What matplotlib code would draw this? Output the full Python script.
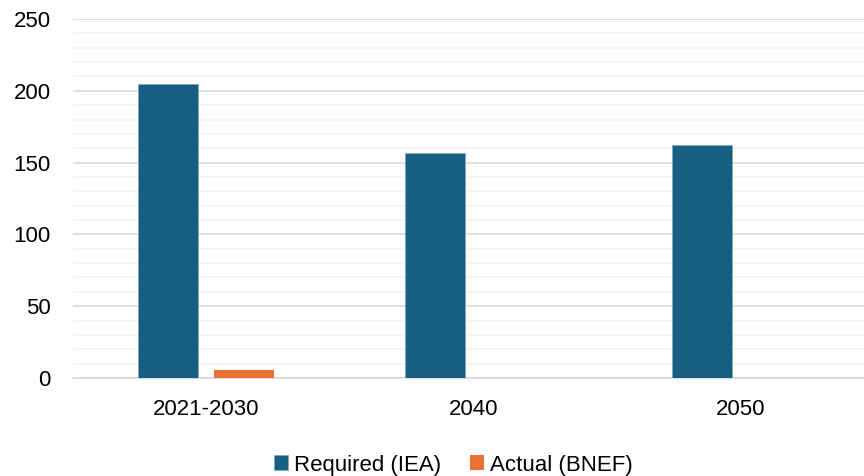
import numpy as np
import matplotlib
matplotlib.use("Agg")
import matplotlib.pyplot as plt
from matplotlib.ticker import MultipleLocator

# data
categories = ['2021-2030', '2040', '2050']
required_iea = [205, 157, 162.5]
actual_bnef = [5.8, 0, 0]

plt.rcParams['font.family'] = ['Liberation Sans', 'DejaVu Sans']

fig = plt.figure(figsize=(8.64, 4.76), dpi=100)
ax = fig.add_axes([73 / 864, 98 / 476, 801 / 864, 359 / 476])

x = np.arange(len(categories))
w = 0.225
ax.bar(x - 0.144, required_iea, w, color='#156082', label='Required (IEA)',
       edgecolor='#7fa6b8', linewidth=0.5, zorder=3)
ax.bar(x + 0.142, actual_bnef, w, color='#E97132', label='Actual (BNEF)', zorder=3)

ax.set_xlim(-0.5, 2.5)
ax.set_ylim(0, 250)
ax.yaxis.set_major_locator(MultipleLocator(50))
ax.yaxis.set_minor_locator(MultipleLocator(10))
ax.grid(axis='y', which='major', color='#d9d9d9', linewidth=1.2, zorder=0)
ax.grid(axis='y', which='minor', color='#f2f2f2', linewidth=1.2, zorder=0)
ax.set_axisbelow(True)

for s in ['top', 'right', 'left']:
    ax.spines[s].set_visible(False)
ax.spines['bottom'].set_color('#d9d9d9')
ax.spines['bottom'].set_linewidth(1.2)

ax.set_xticks(x)
ax.set_xticklabels(categories)
ax.tick_params(axis='both', which='both', length=0, labelsize=16, colors='#000000')
ax.tick_params(axis='x', pad=15)
ax.tick_params(axis='y', pad=16)

fig.legend(loc='center', bbox_to_anchor=(453 / 864, 11 / 476), ncol=2, frameon=False,
           fontsize=16, handlelength=0.65, handleheight=0.65, handletextpad=0.25,
           columnspacing=1.3, borderpad=0)

fig.savefig('out.png', dpi=100)
